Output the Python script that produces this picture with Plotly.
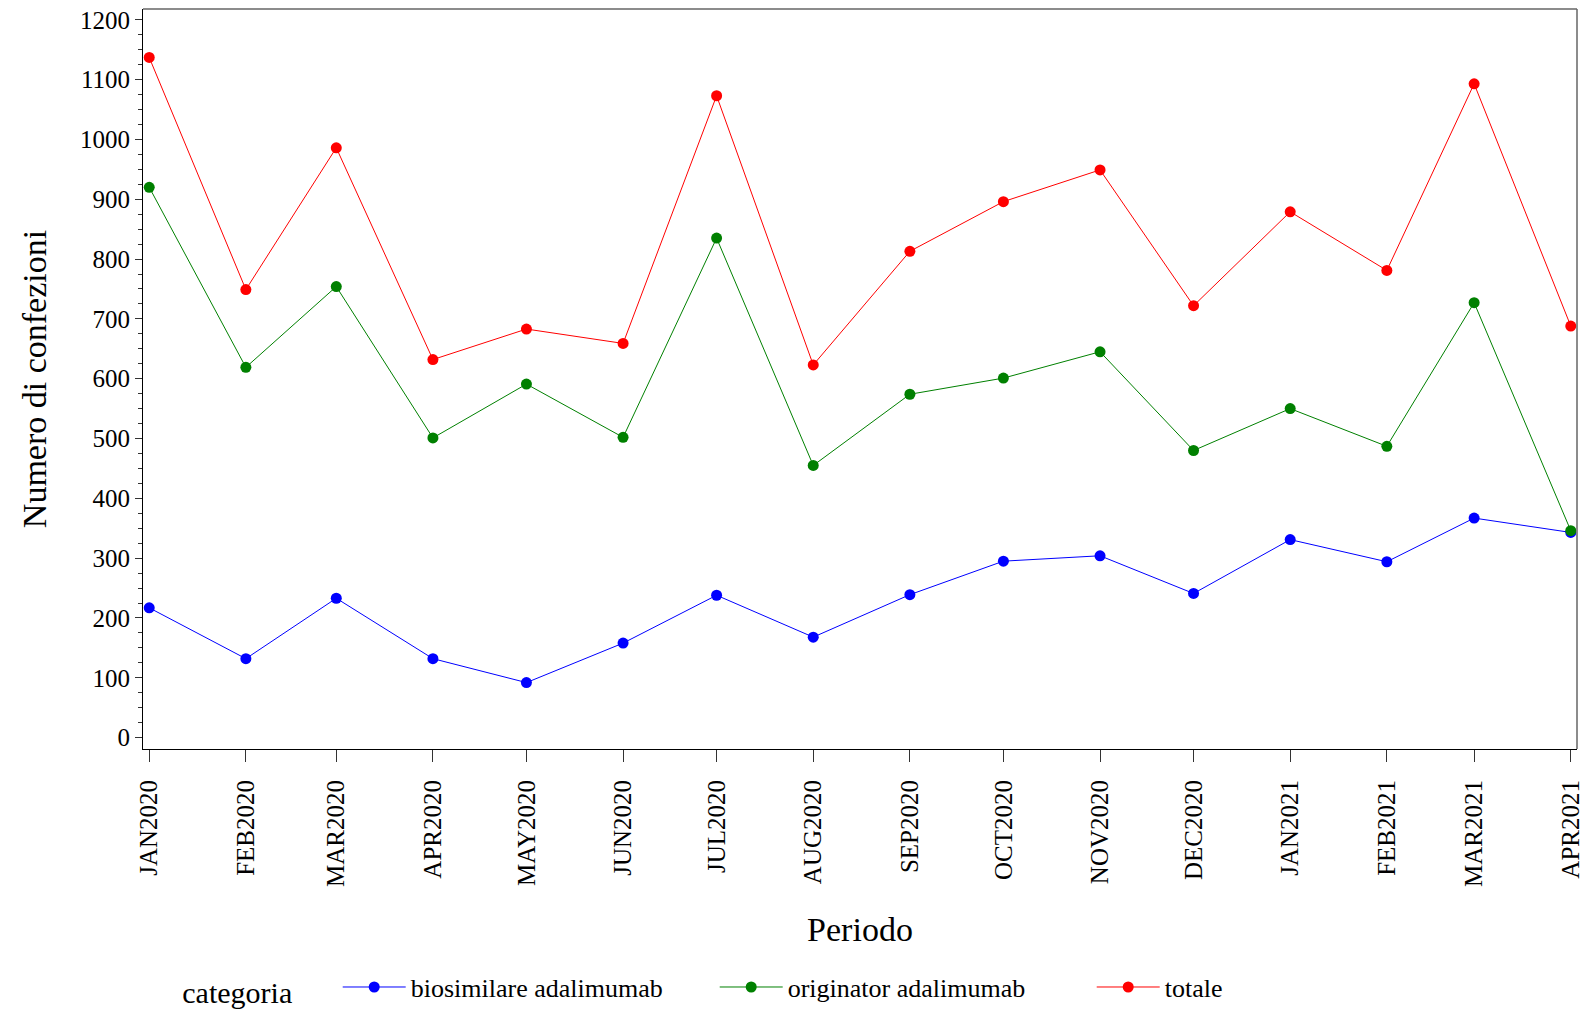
import plotly.graph_objects as go

periodi = ["2020-01-01", "2020-02-01", "2020-03-01", "2020-04-01", "2020-05-01", "2020-06-01",
           "2020-07-01", "2020-08-01", "2020-09-01", "2020-10-01", "2020-11-01", "2020-12-01",
           "2021-01-01", "2021-02-01", "2021-03-01", "2021-04-01"]
tick_labels = ["JAN2020", "FEB2020", "MAR2020", "APR2020", "MAY2020", "JUN2020", "JUL2020",
               "AUG2020", "SEP2020", "OCT2020", "NOV2020", "DEC2020", "JAN2021", "FEB2021",
               "MAR2021", "APR2021"]

biosimilare = [217, 132, 233, 132, 92, 158, 238, 168, 239, 295, 304, 241, 331, 294, 367, 343]
originator = [920, 619, 754, 501, 591, 502, 835, 455, 574, 601, 645, 480, 550, 487, 727, 346]
totale = [1137, 749, 986, 632, 683, 659, 1073, 623, 813, 896, 949, 722, 879, 781, 1093, 688]

series = [
    ("biosimilare adalimumab", biosimilare, "#0000FF"),
    ("originator adalimumab", originator, "#008000"),
    ("totale", totale, "#FF0000"),
]

FONT = "Liberation Serif, Times New Roman, serif"

fig = go.Figure()
for name, vals, col in series:
    fig.add_trace(go.Scatter(
        x=periodi, y=vals, name=name, mode="lines+markers",
        line=dict(color=col, width=1),
        marker=dict(color=col, size=11, symbol="circle"),
        cliponaxis=False,
    ))

fig.update_layout(
    width=1591, height=1009,
    margin=dict(l=135, r=22, t=1, b=268, autoexpand=False),
    paper_bgcolor="white", plot_bgcolor="white",
    font=dict(family=FONT, color="black", size=25),
    showlegend=True,
    legend=dict(
        orientation="h", x=0.026, xanchor="left", y=-0.29, yanchor="top",
        title=dict(text="categoria" + "\u00a0" * 5, font=dict(size=30), side="left"),
        font=dict(size=26),
        entrywidth=299, entrywidthmode="pixels", itemwidth=63,
        bgcolor="rgba(0,0,0,0)",
    ),
    xaxis=dict(
        type="date", range=["2019-12-30", "2021-04-03"],
        tickmode="array", tickvals=periodi, ticktext=tick_labels,
        tickangle=-90, ticks="outside", ticklen=12, tickcolor="#333",
        ticklabelstandoff=8, ticklabeloverflow="allow",
        tickfont=dict(size=25), automargin=False,
        showline=True, linecolor="black", linewidth=1,
        showgrid=False, zeroline=False,
        title=dict(text="Periodo", font=dict(size=34), standoff=31),
    ),
    yaxis=dict(
        range=[-19, 1218], tickmode="linear", tick0=0, dtick=100,
        ticks="outside", ticklen=7, tickcolor="#333",
        ticklabeloverflow="allow",
        minor=dict(ticks="outside", ticklen=4, dtick=25, tickcolor="#333", showgrid=False),
        tickfont=dict(size=25), automargin=False,
        showline=True, linecolor="black", linewidth=1,
        showgrid=False, zeroline=False,
        title=dict(text="Numero di confezioni", font=dict(size=34), standoff=23),
    ),
    shapes=[
        dict(type="line", xref="paper", yref="paper", x0=0, x1=1, y0=1, y1=1,
             line=dict(color="#666", width=1.5)),
        dict(type="line", xref="paper", yref="paper", x0=1, x1=1, y0=0, y1=1,
             line=dict(color="#666", width=1.5)),
    ],
)

fig.write_html("out.html")
